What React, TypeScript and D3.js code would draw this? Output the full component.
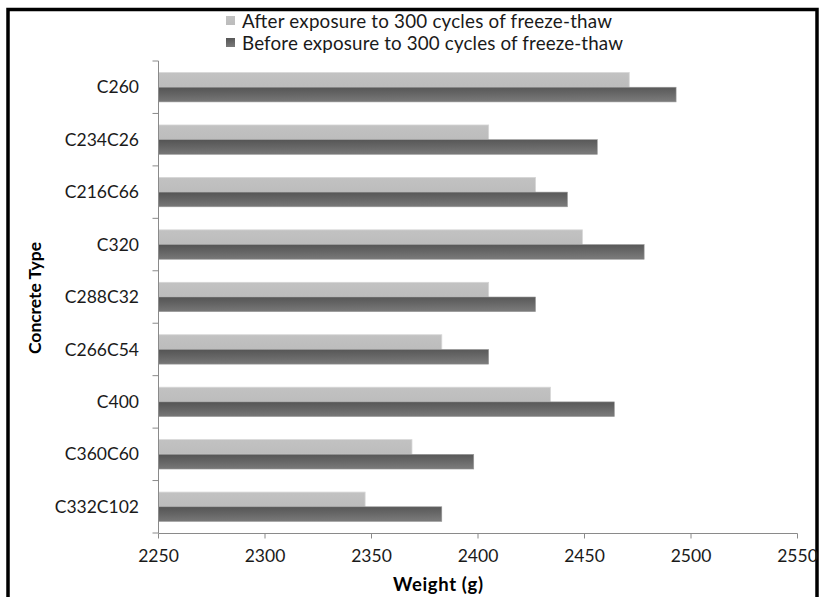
import React from "react";
import * as d3 from "d3";

const categories = ["C260", "C234C26", "C216C66", "C320", "C288C32", "C266C54", "C400", "C360C60", "C332C102"];
const afterValues = [2471, 2405, 2427, 2449, 2405, 2383, 2434, 2369, 2347];
const beforeValues = [2493, 2456, 2442, 2478, 2427, 2405, 2464, 2398, 2383];
const xTicks = [2250, 2300, 2350, 2400, 2450, 2500, 2550];
const seriesNames = ["After exposure to 300 cycles of freeze-thaw", "Before exposure to 300 cycles of freeze-thaw"];

const W = 821;
const H = 597;
const FONT = "Lato, 'Open Sans', sans-serif";

export default function App() {
  const x = d3.scaleLinear().domain([2250, 2550]).range([158.5, 797.5]);
  const y = d3.scaleBand<string>().domain(categories).range([61, 533]).padding(0);
  const band = y.bandwidth();
  const barH = band * 0.28;
  const offset = (band - 2 * barH) / 2;
  const x0 = x(2250);

  return (
    <svg
      width={W}
      height={H}
      style={{ position: "absolute", left: 0, top: 0, background: "#fff" }}
      fontFamily={FONT}
    >
      <defs>
        <linearGradient id="gDark" x1="0" y1="0" x2="0.15" y2="1">
          <stop offset="0" stopColor="#545454" />
          <stop offset="0.5" stopColor="#656565" />
          <stop offset="1" stopColor="#787878" />
        </linearGradient>
        <linearGradient id="gLight" x1="0" y1="0" x2="0" y2="1">
          <stop offset="0" stopColor="#c2c2c2" />
          <stop offset="1" stopColor="#bcbcbc" />
        </linearGradient>
      </defs>

      {/* chart frame */}
      <rect x={8} y={9.5} width={809} height={600} fill="#fff" stroke="#000" strokeWidth={3.5} />

      {/* legend */}
      <g fontSize={18.8} fill="#1a1a1a">
        <rect x={226} y={16} width={9} height={9} fill="url(#gLight)" />
        <text x={242} y={21} dy="0.35em" textLength={370} lengthAdjust="spacing">
          {seriesNames[0]}
        </text>
        <rect x={226} y={38} width={9} height={9} fill="url(#gDark)" />
        <text x={242} y={43} dy="0.35em" textLength={381} lengthAdjust="spacing">
          {seriesNames[1]}
        </text>
      </g>

      {/* bars */}
      {categories.map((c, i) => {
        const top = (y(c) as number) + offset;
        return (
          <g key={c}>
            <rect
              x={x0}
              y={top}
              width={x(afterValues[i]) - x0}
              height={barH}
              fill="url(#gLight)"
              stroke="#d6d6d6"
              strokeWidth={0.8}
            />
            <rect
              x={x0}
              y={top + barH}
              width={x(beforeValues[i]) - x0}
              height={barH}
              fill="url(#gDark)"
              stroke="#9a9a9a"
              strokeWidth={0.6}
            />
          </g>
        );
      })}

      {/* y axis */}
      <line x1={x0} x2={x0} y1={61} y2={533} stroke="#8a8a8a" strokeWidth={1} />
      {categories.map((c) => (
        <line key={"t" + c} x1={x0 - 6} x2={x0} y1={y(c) as number} y2={y(c) as number} stroke="#8a8a8a" />
      ))}
      <line x1={x0 - 6} x2={x0} y1={533} y2={533} stroke="#8a8a8a" />
      <g fontSize={17.5} fill="#1a1a1a" textAnchor="end">
        {categories.map((c) => (
          <text key={"l" + c} x={139} y={(y(c) as number) + band / 2} dy="0.35em">
            {c}
          </text>
        ))}
      </g>

      {/* x axis */}
      <line x1={x0} x2={x(2550)} y1={533.5} y2={533.5} stroke="#8a8a8a" strokeWidth={1} />
      {xTicks.map((t) => (
        <line key={"xt" + t} x1={x(t)} x2={x(t)} y1={533.5} y2={538.5} stroke="#8a8a8a" />
      ))}
      <g fontSize={17.5} fill="#1a1a1a" textAnchor="middle">
        {xTicks.map((t) => (
          <text key={"xl" + t} x={x(t)} y={556} dy="0.35em">
            {t}
          </text>
        ))}
      </g>

      {/* axis titles */}
      <text
        x={393}
        y={585}
        dy="0.35em"
        fontSize={18.5}
        fontWeight="bold"
        fill="#000"
        textLength={90}
        lengthAdjust="spacing"
      >
        Weight (g)
      </text>
      <text
        transform="translate(35,354) rotate(-90)"
        dy="0.35em"
        fontSize={17.5}
        fontWeight="bold"
        fill="#000"
        textLength={112}
        lengthAdjust="spacing"
      >
        Concrete Type
      </text>
    </svg>
  );
}
